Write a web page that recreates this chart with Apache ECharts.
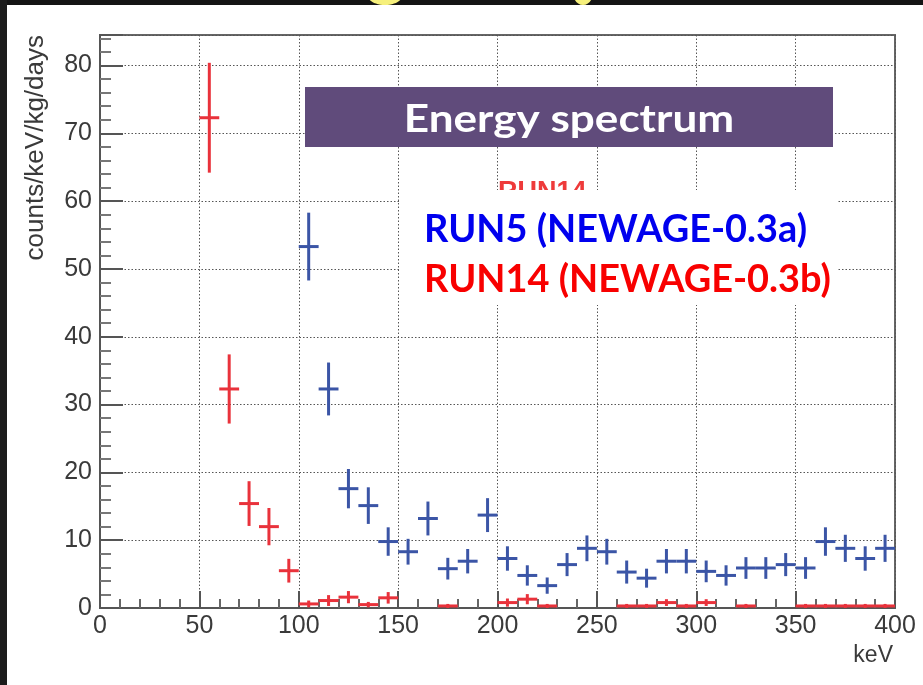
<!DOCTYPE html>
<html>
<head>
<meta charset="utf-8">
<script src="https://cdn.jsdelivr.net/npm/echarts@6/dist/echarts.min.js"></script>
<style>
  html, body { margin: 0; padding: 0; background: #ffffff; }
  #chart { width: 923px; height: 685px; }
</style>
</head>
<body>
<div id="chart"></div>
<script>
// Energy spectrum: rate per 10 keV bin (counts/keV/kg/days) with 1-sigma errors
const binWidth = 10;

const run5Energy = [105, 115, 125, 135, 145, 155, 165, 175, 185, 195,
                    205, 215, 225, 235, 245, 255, 265, 275, 285, 295,
                    305, 315, 325, 335, 345, 355, 365, 375, 385, 395];
const run5Rate   = [53.3, 32.3, 17.6, 15.1, 9.8, 8.3, 13.2, 5.8, 6.9, 13.7,
                    7.3, 4.8, 3.3, 6.4, 8.8, 8.3, 5.3, 4.4, 6.9, 6.9,
                    5.4, 4.8, 5.9, 5.9, 6.4, 5.9, 9.8, 8.8, 7.3, 8.8];
const run5Err    = [5.0, 3.9, 2.9, 2.7, 2.1, 1.9, 2.5, 1.6, 1.8, 2.5,
                    1.8, 1.5, 1.2, 1.7, 1.9, 1.9, 1.7, 1.4, 1.8, 1.8,
                    1.6, 1.5, 1.6, 1.6, 1.7, 1.6, 2.1, 2.0, 1.8, 2.0];

const run14Energy = [55, 65, 75, 85, 95, 105, 115, 125, 135, 145,
                     175, 205, 215, 225, 265, 275, 285, 295, 305, 325,
                     355, 365, 375, 385, 395];
const run14Rate   = [72.3, 32.3, 15.4, 12.0, 5.5, 0.6, 1.1, 1.6, 0.5, 1.5,
                     0.3, 0.8, 1.3, 0.3, 0.3, 0.3, 0.8, 0.3, 0.8, 0.3,
                     0.3, 0.3, 0.3, 0.3, 0.3];
const run14Err    = [8.1, 5.1, 3.3, 2.75, 1.75, 0.5, 0.8, 0.9, 0.4, 0.85,
                     0.3, 0.6, 0.75, 0.3, 0.3, 0.3, 0.5, 0.3, 0.5, 0.3,
                     0.3, 0.3, 0.3, 0.3, 0.3];

// Axis ranges and tick steps
const xRange = [0, 400];
const xStep = 50;
const yRange = [0, 84.5];
const yStep = 10;

const xTitle = 'keV';
const yTitle = 'counts/keV/kg/days';
const boxTitle = 'Energy spectrum';
const run5Label = 'RUN5 (NEWAGE-0.3a)';
const run14Label = 'RUN14 (NEWAGE-0.3b)';
const run14Tag = 'RUN14';

const BLUE = '#3b55a6';
const RED = '#e9323b';

function rows(xs, ys, es) {
  return xs.map((x, i) => [x, ys[i], es[i]]);
}

// Histogram-style marker: horizontal bar over the bin, vertical bar over the error
function errorCross(color) {
  return function (params, api) {
    const x = api.value(0), y = api.value(1), e = api.value(2);
    const l = api.coord([x - binWidth / 2, y]);
    const r = api.coord([x + binWidth / 2, y]);
    const t = api.coord([x, y + e]);
    const b = api.coord([x, Math.max(y - e, 0)]);
    const st = { stroke: color, lineWidth: 3 };
    return {
      type: 'group',
      children: [
        { type: 'line', shape: { x1: l[0], y1: l[1], x2: r[0], y2: r[1] }, style: st },
        { type: 'line', shape: { x1: t[0], y1: t[1], x2: b[0], y2: b[1] }, style: st }
      ]
    };
  };
}

const axisFont = { fontFamily: 'Liberation Sans', fontSize: 25, color: '#3a3a3a' };
const gridLine = { show: true, lineStyle: { color: '#555', width: 1, type: [1.5, 2] } };

const chart = echarts.init(document.getElementById('chart'), null, { renderer: 'canvas' });

chart.setOption({
  backgroundColor: '#ffffff',
  animation: false,
  grid: {
    left: 100, top: 35, width: 795, height: 573,
    show: true, borderColor: '#666', borderWidth: 2, backgroundColor: 'transparent'
  },
  xAxis: {
    type: 'value',
    min: xRange[0], max: xRange[1], interval: xStep,
    axisLine: { show: true, lineStyle: { color: '#555', width: 2 } },
    axisTick: { show: true, inside: true, length: 17, lineStyle: { color: '#555', width: 2 } },
    minorTick: { show: true, splitNumber: 5, length: 9, lineStyle: { color: '#666', width: 2 } },
    axisLabel: Object.assign({ margin: 6 }, axisFont),
    splitLine: gridLine
  },
  yAxis: {
    type: 'value',
    min: yRange[0], max: yRange[1], interval: yStep,
    axisLine: { show: true, lineStyle: { color: '#555', width: 2 } },
    axisTick: { show: true, inside: true, length: 23, lineStyle: { color: '#555', width: 2 } },
    minorTick: { show: true, splitNumber: 5, length: 11, lineStyle: { color: '#777', width: 2 } },
    axisLabel: Object.assign({
      margin: 8,
      formatter: v => (v % yStep === 0 ? String(v) : '')
    }, axisFont),
    splitLine: gridLine
  },
  series: [
    {
      name: 'RUN14',
      type: 'custom',
      renderItem: errorCross(RED),
      data: rows(run14Energy, run14Rate, run14Err),
      encode: { x: 0, y: 1 },
      z: 3
    },
    {
      name: 'RUN5',
      type: 'custom',
      renderItem: errorCross(BLUE),
      data: rows(run5Energy, run5Rate, run5Err),
      encode: { x: 0, y: 1 },
      z: 4
    }
  ],
  graphic: [
    // slide background edges and clipped heading glyphs
    { type: 'rect', shape: { x: 0, y: 0, width: 923, height: 5 }, style: { fill: '#141414' }, z: 50 },
    { type: 'rect', shape: { x: 0, y: 0, width: 7, height: 685 }, style: { fill: '#1c1c1c' }, z: 50 },
    { type: 'ellipse', shape: { cx: 385, cy: -4, rx: 17, ry: 9 }, style: { fill: '#f6f07c' }, z: 51 },
    { type: 'ellipse', shape: { cx: 583, cy: -4, rx: 9, ry: 9 }, style: { fill: '#f6f07c' }, z: 51 },
    // axis titles
    {
      type: 'text', x: 893, y: 656, z: 60,
      style: { text: xTitle, fontFamily: 'Liberation Sans', fontSize: 23, fill: '#3a3a3a', align: 'right', verticalAlign: 'middle' }
    },
    {
      type: 'text', x: 36, y: 35, rotation: Math.PI / 2, z: 60,
      style: { text: yTitle, fontFamily: 'Liberation Sans', fontSize: 26, fill: '#3a3a3a', align: 'right', verticalAlign: 'middle' }
    },
    // partly hidden run tag behind the legend box
    {
      type: 'text', x: 498, y: 193, z: 60,
      style: { text: run14Tag, fontFamily: 'Liberation Sans', fontWeight: 'bold', fontSize: 27, fill: '#ee3a3a', align: 'left', verticalAlign: 'middle' }
    },
    // legend panel
    { type: 'rect', shape: { x: 401, y: 190, width: 437, height: 115 }, style: { fill: '#ffffff' }, z: 70 },
    {
      type: 'text', x: 424, y: 229, scaleX: 0.972, z: 71,
      style: { text: run5Label, fontFamily: 'Lato', fontWeight: 'bold', fontSize: 39, fill: '#0000ee', align: 'left', verticalAlign: 'middle' }
    },
    {
      type: 'text', x: 424, y: 279, scaleX: 0.972, z: 71,
      style: { text: run14Label, fontFamily: 'Lato', fontWeight: 'bold', fontSize: 39, fill: '#f80000', align: 'left', verticalAlign: 'middle' }
    },
    // title banner
    { type: 'rect', shape: { x: 305, y: 87, width: 528, height: 60 }, style: { fill: '#604b7b' }, z: 72 },
    {
      type: 'text', x: 569, y: 119, scaleX: 1.13, z: 73,
      style: { text: boxTitle, fontFamily: 'Lato', fontWeight: 'bold', fontSize: 39, fill: '#ffffff', align: 'center', verticalAlign: 'middle' }
    }
  ]
});
</script>
</body>
</html>
